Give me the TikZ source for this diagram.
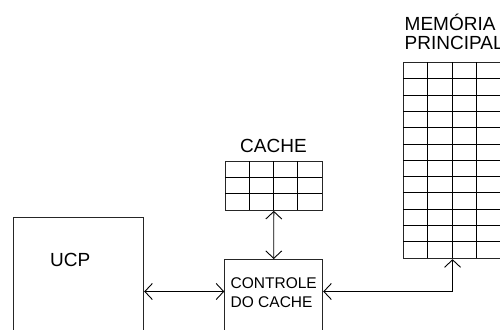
\documentclass[tikz,border=0pt]{standalone}
\usepackage{fontspec}
\setmainfont{Liberation Sans}
\usetikzlibrary{arrows.meta,positioning,calc}

\begin{document}
\begin{tikzpicture}[x=1pt, y=-1pt,
    unitbox/.style={draw=black!85, line width=0.9pt, inner sep=0pt, anchor=north west},
    biglabel/.style={font=\fontsize{19}{19.5}\selectfont, inner sep=0pt},
    smalllabel/.style={font=\fontsize{15.5}{19}\selectfont, inner sep=0pt, align=left},
    gridline/.style={line width=0.9pt},
    bus/.style={line width=0.9pt, {Straight Barb[length=7.5pt,width=16pt]}-{Straight Barb[length=7.5pt,width=16pt]}}]
    \useasboundingbox (0,0) rectangle (500,329);
    \clip (0,0) rectangle (500,329);

    % Boxes
    \node[unitbox, minimum width=130.6pt, minimum height=140pt] (ucp) at (12.7,217.3) {};
    \node[unitbox, minimum width=98pt, minimum height=100pt] (ctrl) at (224.3,259) {};
    \node[unitbox, minimum width=96.7pt, minimum height=49pt] (cache) at (225,161) {};
    \node[unitbox, minimum width=97.6pt, minimum height=196pt] (mem) at (403.3,62.3) {};

    % Cache cells: 4 x 3
    \foreach \i in {1,2,3} {
        \draw[gridline] (cache.north west) ++(\i*24.17,0) -- ++(0,49);
    }
    \foreach \j in {1,2} {
        \draw[gridline] (cache.north west) ++(0,\j*16.33) -- ++(96.7,0);
    }

    % Memory cells: 4 x 12
    \foreach \i in {1,2,3} {
        \draw[gridline] (mem.north west) ++(\i*24.4,0) -- ++(0,196);
    }
    \foreach \j in {1,...,11} {
        \draw[gridline] (mem.north west) ++(0,\j*16.33) -- ++(97.6,0);
    }

    % Labels (base = last line)
    \node[biglabel, anchor=base] (cachelabel) at (273.5,152.5) {CACHE};
    \node[biglabel, anchor=base west] (ucplabel) at (50,266.5) {UCP};
    \node[biglabel, anchor=base west, align=left] (memlabel) at (404.5,50) {MEMÓRIA\\PRINCIPAL};
    \node[smalllabel, anchor=base west] (ctrllabel) at (230.5,307) {CONTROLE\\DO CACHE};

    % Connections
    \coordinate (busline) at (0,291.5);
    \draw[bus] (ucp.east |- busline) -- (ctrl.west |- busline);
    \draw[bus] (cache.south) -- (ctrl.north);
    \draw[bus] (mem.south) |- (ctrl.east |- busline);
\end{tikzpicture}
\end{document}
